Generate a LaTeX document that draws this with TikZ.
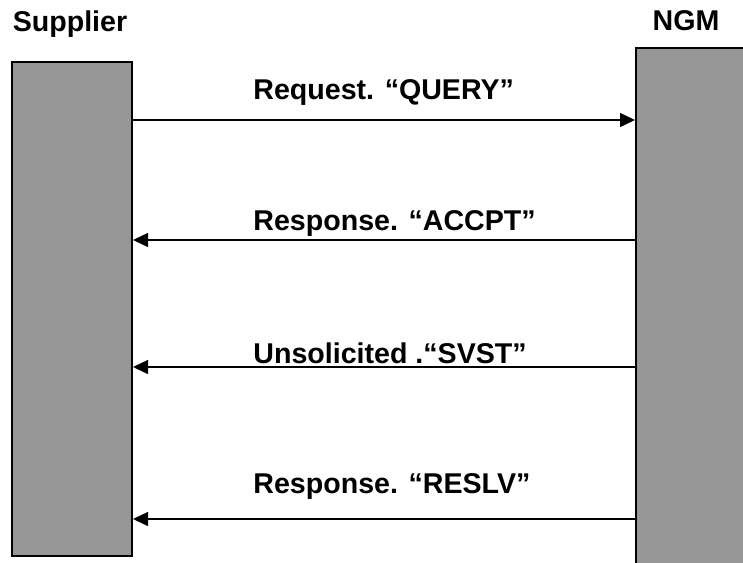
\documentclass[tikz,border=0pt]{standalone}
\usepackage{fontspec}
\setmainfont{Liberation Sans}
\usepackage{color}
\definecolor{barGray}{RGB}{150,150,150}
\usetikzlibrary{calc,arrows.meta}

\begin{document}
\begin{tikzpicture}[x=0.5pt,y=-0.5pt,
    bar/.style={draw=black,line width=1pt,fill=barGray,inner sep=0pt,
      anchor=north west,minimum width=60pt},
    msg/.style={-{Triangle[length=7.5pt,width=7pt]},line width=0.7pt},
    lbl/.style={anchor=base west,inner sep=0pt,
      font=\bfseries\fontsize{14.3}{16}\selectfont}]
  \clip (0,0) rectangle (743,562);

  %% The two parties
  \node[bar,minimum height=247pt] (SUP) at (11,61) {};
  \node[bar,minimum height=270pt] (NGM) at (635,47) {};
  \node[lbl,anchor=base] (SUPname) at (70,32) {Supplier};
  \node[lbl,anchor=base] (NGMname) at (686,30) {NGM};

  %% Rows of the messages
  \coordinate (R1) at (0,120);
  \coordinate (R2) at (0,240);
  \coordinate (R3) at (0,367);
  \coordinate (R4) at (0,519);

  %% Drawing arrows between the parties
  \draw[msg] (SUP.east |- R1) -- (NGM.west |- R1);
  \foreach \r in {2,3,4}
  {
    \draw[msg] (NGM.west |- R\r) -- (SUP.east |- R\r);
  }

  %% Label messages:
  \foreach \i/\y/\t in {1/99/{Request. “QUERY”},
                        2/230/{Response. “ACCPT”},
                        3/363/{Unsolicited .“SVST”},
                        4/493/{Response. “RESLV”}}
  {
    \node[lbl] (MSG\i) at (253,\y) {\t};
  }
\end{tikzpicture}
\end{document}
